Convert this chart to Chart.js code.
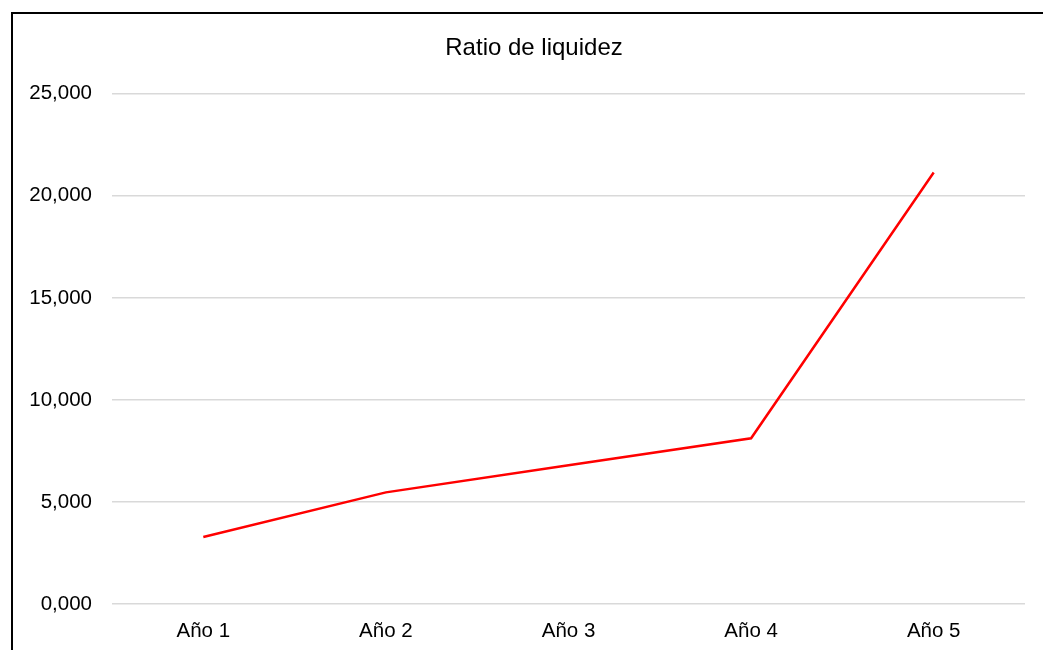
<!DOCTYPE html>
<html>
<head>
<meta charset="utf-8">
<script src="https://cdn.jsdelivr.net/npm/chart.js@4/dist/chart.umd.min.js"></script>
<style>
  html, body { margin: 0; padding: 0; background: #fff; overflow: hidden; }
  #wrap { position: absolute; left: 0; top: 0; width: 1043px; height: 650px; }
  #frame { position: absolute; left: 11px; top: 12px; width: 1100px; height: 700px; border: 2px solid #000; pointer-events: none; box-sizing: border-box; }
</style>
</head>
<body>
<div id="wrap"><canvas id="c" width="1043" height="650"></canvas></div>
<div id="frame"></div>
<script>
const categories = ["Año 1", "Año 2", "Año 3", "Año 4", "Año 5"];
const ratioValues = [3.28, 5.47, 6.80, 8.12, 21.14];
const chartTitle = "Ratio de liquidez";
const yTickValues = [0, 5, 10, 15, 20, 25];

const FONT = "'Liberation Sans', Arial, sans-serif";

// Shift the title's box so it is centred in the framed area rather than the canvas
const titleShift = {
  id: 'titleShift',
  afterLayout(chart) {
    if (chart.titleBlock) { chart.titleBlock.left = 43; }
  }
};

new Chart(document.getElementById('c'), {
  type: 'line',
  data: {
    labels: categories,
    datasets: [{
      label: chartTitle,
      data: ratioValues,
      borderColor: '#ff0000',
      backgroundColor: '#ff0000',
      borderWidth: 2.5,
      pointRadius: 0,
      tension: 0,
      fill: false
    }]
  },
  plugins: [titleShift],
  options: {
    responsive: false,
    animation: false,
    layout: { padding: { top: 34, left: 0, right: 18, bottom: 0 } },
    plugins: {
      legend: { display: false },
      tooltip: { enabled: false },
      title: {
        display: true,
        text: chartTitle,
        color: '#000',
        font: { family: FONT, size: 24, weight: 'normal' },
        padding: { top: 0, bottom: 31 }
      }
    },
    scales: {
      x: {
        offset: true,
        afterFit: (scale) => { scale.height = 46; },
        grid: { display: false, drawTicks: false },
        border: { display: false },
        ticks: {
          color: '#000',
          font: { family: FONT, size: 20.5 },
          padding: 15,
          maxRotation: 0
        }
      },
      y: {
        min: 0,
        max: 25,
        afterBuildTicks: (scale) => { scale.ticks = yTickValues.map(v => ({ value: v })); },
        afterFit: (scale) => { scale.width = 112; },
        grid: { color: '#d9d9d9', lineWidth: 1.5, drawTicks: false },
        border: { display: false },
        ticks: {
          color: '#000',
          font: { family: FONT, size: 20.5 },
          padding: 20,
          callback: (v) => Number(v).toFixed(3).replace('.', ',')
        }
      }
    }
  }
});
</script>
</body>
</html>
